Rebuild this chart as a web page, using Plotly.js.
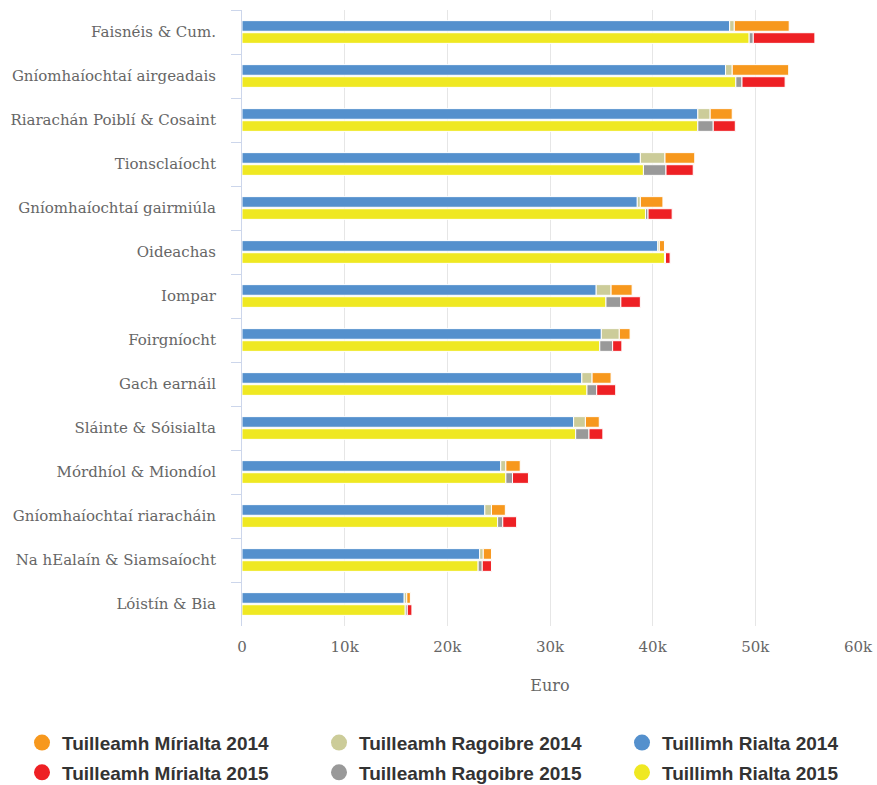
<!DOCTYPE html>
<html>
<head>
<meta charset="utf-8">
<script src="https://cdn.plot.ly/plotly-3.0.1.min.js"></script>
<style>html,body{margin:0;padding:0;background:#fff;}#chart{width:877px;height:785px;}</style>
</head>
<body>
<div id="chart"></div>
<script>
const categories = ["Faisnéis & Cum.", "Gníomhaíochtaí airgeadais", "Riarachán Poiblí & Cosaint", "Tionsclaíocht", "Gníomhaíochtaí gairmiúla", "Oideachas", "Iompar", "Foirgníocht", "Gach earnáil", "Sláinte & Sóisialta", "Mórdhíol & Miondíol", "Gníomhaíochtaí riaracháin", "Na hEalaín & Siamsaíocht", "Lóistín & Bia"];

const rialta2014   = [47500, 47100, 44400, 38800, 38500, 40500, 34500, 35000, 33100, 32300, 25200, 23650, 23150, 15800];
const ragoibre2014 = [450, 650, 1200, 2400, 300, 150, 1450, 1750, 1000, 1150, 500, 650, 350, 250];
const mirialta2014 = [5350, 5500, 2150, 2900, 2200, 500, 2050, 1050, 1850, 1350, 1400, 1350, 800, 350];
const rialta2015   = [49400, 48100, 44400, 39100, 39300, 41150, 35450, 34850, 33600, 32500, 25700, 24900, 23000, 15900];
const ragoibre2015 = [400, 600, 1500, 2200, 250, 100, 1450, 1250, 950, 1300, 650, 500, 400, 200];
const mirialta2015 = [6000, 4200, 2150, 2650, 2350, 450, 1900, 900, 1850, 1350, 1550, 1350, 900, 450];

const names = {
  mir14: "Tuilleamh Mírialta 2014", rag14: "Tuilleamh Ragoibre 2014", ria14: "Tuillimh Rialta 2014",
  mir15: "Tuilleamh Mírialta 2015", rag15: "Tuilleamh Ragoibre 2015", ria15: "Tuillimh Rialta 2015"
};
const colors = {
  mir14: "#F7981D", rag14: "#CCCC99", ria14: "#5490CD",
  mir15: "#EE2024", rag15: "#999999", ria15: "#EFE822"
};
const legendOf = {mir14: "legend", mir15: "legend", rag14: "legend2", rag15: "legend2", ria14: "legend3", ria15: "legend3"};

const add = (a, b) => a.map((v, i) => v + b[i]);

function bar(x, base, color, group, name) {
  return {
    type: "bar", orientation: "h", y: categories, x: x, base: base,
    offsetgroup: group, name: name, showlegend: false,
    marker: {color: color, line: {color: "#ffffff", width: 1}},
    hoverinfo: "name+x"
  };
}

const zeros = categories.map(() => 0);
const traces = [
  bar(rialta2014, zeros, colors.ria14, "y2014", names.ria14),
  bar(ragoibre2014, rialta2014, colors.rag14, "y2014", names.rag14),
  bar(mirialta2014, add(rialta2014, ragoibre2014), colors.mir14, "y2014", names.mir14),
  bar(rialta2015, zeros, colors.ria15, "y2015", names.ria15),
  bar(ragoibre2015, rialta2015, colors.rag15, "y2015", names.rag15),
  bar(mirialta2015, add(rialta2015, ragoibre2015), colors.mir15, "y2015", names.mir15)
];

["mir14", "mir15", "rag14", "rag15", "ria14", "ria15"].forEach(k => {
  traces.push({
    type: "scatter", mode: "markers", x: [null], y: [null], name: names[k],
    legend: legendOf[k], legendgroup: k,
    marker: {color: colors[k], size: 18, symbol: "circle"}, showlegend: true, hoverinfo: "skip"
  });
});

const serif = "'DejaVu Serif', serif";
const legendFont = {family: "'Liberation Sans', Arial, sans-serif", size: 19, color: "#333333", weight: "bold"};
function legendAt(xpx) {
  return {
    orientation: "v", xref: "container", yref: "container",
    x: xpx / 877, y: 0.078, xanchor: "left", yanchor: "top",
    tracegroupgap: 2, font: legendFont, bgcolor: "rgba(0,0,0,0)",
    itemclick: false, itemdoubleclick: false
  };
}

const layout = {
  width: 877, height: 785,
  margin: {l: 242, r: 19, t: 10, b: 159, autoexpand: false},
  paper_bgcolor: "#ffffff", plot_bgcolor: "#ffffff",
  barmode: "group", bargap: 0.45, bargroupgap: 0.12,
  xaxis: {
    range: [0, 60000], dtick: 10000, tick0: 0, tickformat: "~s",
    showgrid: true, gridcolor: "#e6e6e6", gridwidth: 1,
    zeroline: false, showline: false, ticks: "",
    ticklabelstandoff: 10, automargin: false,
    tickfont: {family: serif, size: 15, color: "#666666"},
    title: {text: "Euro", font: {family: serif, size: 16, color: "#666666"}, standoff: 24},
    fixedrange: true
  },
  yaxis: {
    type: "category", autorange: "reversed",
    showgrid: false, zeroline: false,
    showline: true, linecolor: "#ccd6eb", linewidth: 1,
    ticks: "outside", ticklen: 10, tickcolor: "#ccd6eb", tickwidth: 1,
    tickson: "boundaries", ticklabelstandoff: 22, automargin: false,
    tickfont: {family: serif, size: 15, color: "#666666"},
    fixedrange: true
  },
  showlegend: true,
  legend: legendAt(22),
  legend2: legendAt(319),
  legend3: legendAt(622)
};

Plotly.newPlot("chart", traces, layout, {displayModeBar: false, staticPlot: true});
</script>
</body>
</html>
